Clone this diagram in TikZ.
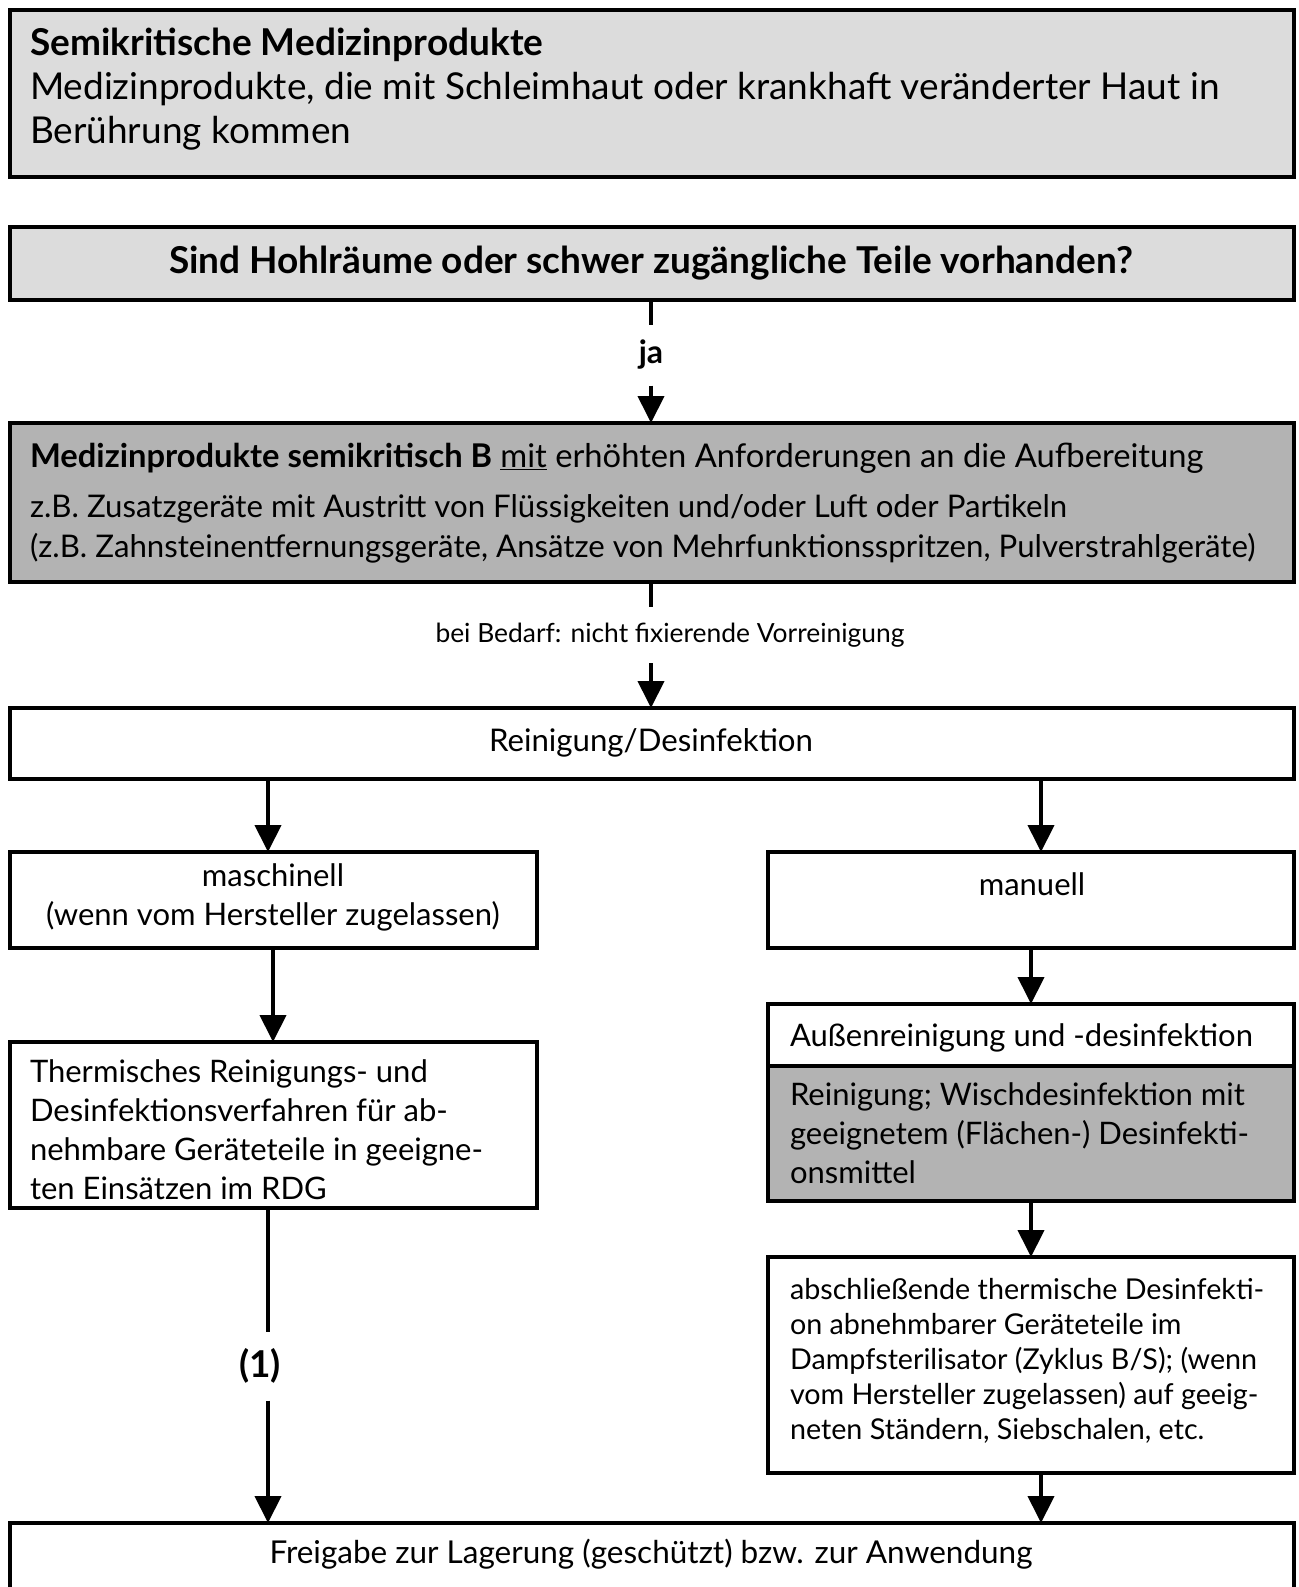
\documentclass[tikz,border=0pt]{standalone}
\usepackage{fontspec}
\setmainfont{Lato}
\usetikzlibrary{arrows.meta}
\definecolor{lightg}{HTML}{DCDCDC}
\definecolor{darkg}{HTML}{B3B3B3}
\newcommand{\fsA}{\fontsize{37}{44}\selectfont}
\newcommand{\fsQ}{\fontsize{37}{44}\selectfont}
\newcommand{\fsB}{\fontsize{31.2}{40}\selectfont}
\newcommand{\fsBB}{\fontsize{32.7}{40}\selectfont}
\newcommand{\fsC}{\fontsize{31}{39}\selectfont}
\newcommand{\fsD}{\fontsize{28.7}{35}\selectfont}
\newcommand{\fsS}{\fontsize{26.4}{30}\selectfont}
\begin{document}
\begin{tikzpicture}[x=1pt,y=-1pt,
  box/.style={draw=black, line width=4.5pt, inner sep=0pt, outer sep=0pt, anchor=north west},
  txt/.style={inner sep=0pt, outer sep=0pt, align=left, anchor=mid west},
  lbl/.style={inner sep=0pt, outer sep=0pt, align=center},
  conn/.style={line width=4pt},
  arr/.style={line width=4pt, -{Triangle[length=27pt,width=26pt]}}]
\useasboundingbox (0,0) rectangle (1298,1587);
\clip (0,0) rectangle (1298,1587);
% boxes
\node[box, fill=lightg, minimum width=1284pt, minimum height=167pt] (b1) at (10,10) {};
\node[box, fill=lightg, minimum width=1284pt, minimum height=73pt] (b2) at (10,227) {};
\node[box, fill=darkg, minimum width=1284pt, minimum height=159pt] (b3) at (10,423) {};
\node[box, fill=white, minimum width=1284pt, minimum height=71pt] (b4) at (10,708) {};
\node[box, fill=white, minimum width=527pt, minimum height=96pt] (masch) at (10,852) {};
\node[box, fill=white, minimum width=526pt, minimum height=96pt] (manu) at (768,852) {};
\node[box, fill=white, minimum width=527pt, minimum height=166pt] (therm) at (10,1042) {};
\node[box, fill=white, minimum width=526pt, minimum height=62pt] (aussen) at (768,1004) {};
\node[box, fill=darkg, minimum width=526pt, minimum height=135pt] (wisch) at (768,1066) {};
\node[box, fill=white, minimum width=526pt, minimum height=216pt] (absch) at (768,1257) {};
\node[box, fill=white, minimum width=1284pt, minimum height=120pt] (frei) at (10,1523) {};
% texts (anchored at the last line)
\node[txt, font=\fsA] (t1) at (30,141) {\textbf{Semikritische Medizinprodukte}\\Medizinprodukte, die mit Schleimhaut oder krankhaft veränderter Haut in\\Berührung kommen};
\node[lbl, anchor=mid, font=\fsQ] (t2) at (651,271) {\textbf{Sind Hohlräume oder schwer zugängliche Teile vorhanden?}};
\node[txt, font=\fsB] (t3) at (30,555) {{\fsBB\textbf{Medizinprodukte semikritisch B} \underline{mit} erhöhten Anforderungen an die Aufbereitung}\\[10pt]z.B. Zusatzgeräte mit Austritt von Flüssigkeiten und/oder Luft oder Partikeln\\(z.B. Zahnsteinentfernungsgeräte, Ansätze von Mehrfunktionsspritzen, Pulverstrahlgeräte)};
\node[lbl, anchor=mid, font=\fsB] (t4) at (651,749) {Reinigung/Desinfektion};
\node[lbl, anchor=mid, font=\fsC] (t5) at (273,923) {maschinell\\(wenn vom Hersteller zugelassen)};
\node[lbl, anchor=mid, font=\fsC] (t6) at (1032,893) {manuell};
\node[txt, font=\fsC] (t7) at (30,1197) {Thermisches Reinigungs- und\\Desinfektionsverfahren für ab-\\nehmbare Geräteteile in geeigne-\\ten Einsätzen im RDG};
\node[txt, font=\fsC] (t8) at (790,1044) {Außenreinigung und -desinfektion};
\node[txt, font=\fsC] (t9) at (790,1181) {Reinigung; Wischdesinfektion mit\\geeignetem (Flächen-) Desinfekti-\\onsmittel};
\node[txt, font=\fsD] (t10) at (790,1437) {abschließende thermische Desinfekti-\\on abnehmbarer Geräteteile im\\Dampfsterilisator (Zyklus B/S); (wenn\\vom Hersteller zugelassen) auf geeig-\\neten Ständern, Siebschalen, etc.};
\node[lbl, anchor=mid, font=\fontsize{31.5}{38}\selectfont] (t11) at (651,1561) {Freigabe zur Lagerung (geschützt) bzw. zur Anwendung};
% connector labels
\node[lbl, minimum height=61pt, font=\fontsize{32}{40}\selectfont] (ja) at (651,355) {\textbf{ja}};
\node[lbl, minimum height=56pt, font=\fsS] (bedarf) at (670,635) {bei Bedarf: nicht fixierende Vorreinigung};
\node[lbl, minimum height=69pt, font=\fontsize{37}{44}\selectfont] (eins) at (260,1366) {\textbf{(1)}};
% connectors
\draw[conn] (b2.south -| ja) -- (ja.north);
\draw[arr] (ja.south) -- (b3.north -| ja);
\draw[conn] (b3.south -| 651,0) -- (bedarf.north -| 651,0);
\draw[arr] (bedarf.south -| 651,0) -- (b4.north -| 651,0);
\draw[arr] (b4.south -| 268,0) -- (masch.north -| 268,0);
\draw[arr] (b4.south -| 1041,0) -- (manu.north -| 1041,0);
\draw[arr] (masch.south -| 273,0) -- (therm.north -| 273,0);
\draw[arr] (manu.south -| 1031,0) -- (aussen.north -| 1031,0);
\draw[arr] (wisch.south -| 1031,0) -- (absch.north -| 1031,0);
\draw[conn] (therm.south -| 268,0) -- (eins.north -| 268,0);
\draw[arr] (eins.south -| 268,0) -- (frei.north -| 268,0);
\draw[arr] (absch.south -| 1041,0) -- (frei.north -| 1041,0);
\end{tikzpicture}
\end{document}
